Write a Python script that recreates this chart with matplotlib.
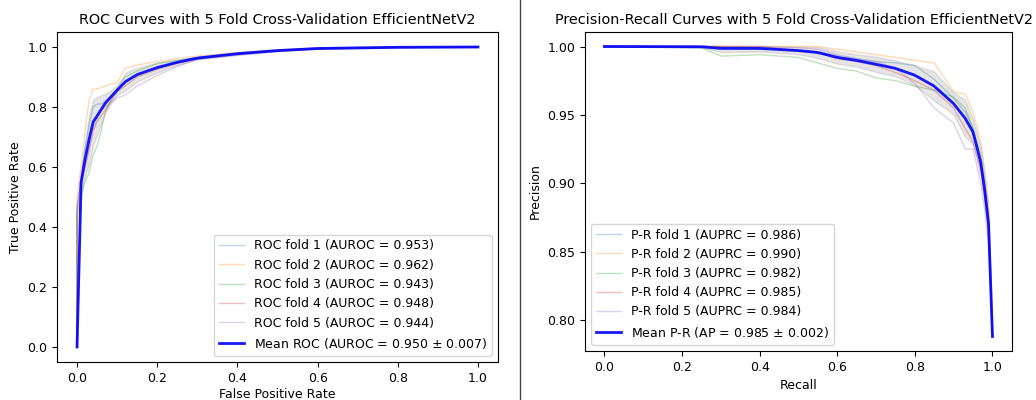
import numpy as np
import matplotlib
matplotlib.use("Agg")
import matplotlib.pyplot as plt
from matplotlib.lines import Line2D

# ---- ROC folds (fpr, tpr) ----
roc_fpr = [0.0, 0.0, 0.01, 0.02, 0.03, 0.04, 0.05, 0.06, 0.07, 0.08, 0.10, 0.12,
           0.15, 0.20, 0.25, 0.30, 0.40, 0.50, 0.60, 0.80, 1.0]
roc_tpr_folds = [
    [0.0, 0.46, 0.56, 0.66, 0.74, 0.80, 0.81, 0.81, 0.82, 0.83, 0.86, 0.88,
     0.91, 0.930, 0.950, 0.962, 0.980, 0.990, 0.996, 1.000, 1.0],
    [0.0, 0.50, 0.60, 0.72, 0.82, 0.86, 0.86, 0.865, 0.87, 0.875, 0.88, 0.93,
     0.94, 0.952, 0.960, 0.970, 0.982, 0.990, 0.997, 1.000, 1.0],
    [0.0, 0.44, 0.50, 0.55, 0.58, 0.64, 0.67, 0.72, 0.78, 0.81, 0.86, 0.90,
     0.92, 0.945, 0.955, 0.965, 0.978, 0.988, 0.995, 0.999, 1.0],
    [0.0, 0.47, 0.55, 0.60, 0.66, 0.72, 0.75, 0.77, 0.79, 0.81, 0.85, 0.87,
     0.90, 0.925, 0.945, 0.960, 0.976, 0.987, 0.994, 0.998, 1.0],
    [0.0, 0.45, 0.53, 0.60, 0.66, 0.73, 0.76, 0.79, 0.80, 0.81, 0.83, 0.84,
     0.87, 0.905, 0.935, 0.958, 0.972, 0.985, 0.993, 0.998, 1.0],
]
roc_auc = [0.953, 0.962, 0.943, 0.948, 0.944]
roc_mean_auc, roc_std_auc = 0.950, 0.007

# ---- Precision-Recall folds (recall, precision) ----
pr_recall = [0.0, 0.25, 0.30, 0.40, 0.50, 0.55, 0.60, 0.65, 0.70, 0.75, 0.80,
             0.85, 0.90, 0.93, 0.95, 0.97, 0.98, 0.99, 1.0]
pr_prec_folds = [
    [1.0, 1.0, 1.000, 0.999, 0.997, 0.996, 0.993, 0.991, 0.989, 0.988, 0.986,
     0.976, 0.962, 0.952, 0.940, 0.920, 0.900, 0.875, 0.788],
    [1.0, 1.0, 1.000, 1.000, 1.000, 1.000, 0.998, 0.996, 0.994, 0.992, 0.990,
     0.988, 0.967, 0.965, 0.952, 0.930, 0.910, 0.885, 0.788],
    [1.0, 0.999, 0.993, 0.994, 0.992, 0.988, 0.984, 0.982, 0.977, 0.975, 0.971,
     0.968, 0.963, 0.955, 0.940, 0.915, 0.895, 0.870, 0.788],
    [1.0, 1.0, 1.000, 1.000, 0.997, 0.996, 0.991, 0.989, 0.986, 0.981, 0.975,
     0.968, 0.955, 0.940, 0.930, 0.910, 0.890, 0.865, 0.788],
    [1.0, 1.0, 1.000, 1.000, 0.999, 0.998, 0.994, 0.991, 0.989, 0.984, 0.973,
     0.955, 0.944, 0.925, 0.925, 0.900, 0.880, 0.855, 0.788],
]
pr_auc = [0.986, 0.990, 0.982, 0.985, 0.984]
pr_mean_ap, pr_std_ap = 0.985, 0.002

fs_title = 10.4
fs = 9

fig = plt.figure(figsize=(10.36, 4.0), dpi=100)
ax1 = fig.add_axes([0.055, 0.095, 0.4257, 0.825])
ax2 = fig.add_axes([0.5647, 0.1225, 0.412, 0.7975])

# ROC panel
grid = np.linspace(0, 1, 100)
tprs = []
for i, tpr in enumerate(roc_tpr_folds):
    ax1.plot(roc_fpr, tpr, lw=1, alpha=0.3,
             label=f"ROC fold {i + 1} (AUROC = {roc_auc[i]:.3f})")
    t = np.interp(grid, roc_fpr[1:], tpr[1:])
    tprs.append(t)
tprs = np.array(tprs)
mean_tpr = tprs.mean(axis=0)
mean_tpr[0] = 0.0
mean_tpr[-1] = 1.0
std_tpr = tprs.std(axis=0)
ax1.plot(grid, mean_tpr, color="b", lw=2, alpha=0.9,
         label=f"Mean ROC (AUROC = {roc_mean_auc:.3f} $\\pm$ {roc_std_auc:.3f})")
ax1.fill_between(grid, np.maximum(mean_tpr - std_tpr, 0), np.minimum(mean_tpr + std_tpr, 1),
                 color="grey", alpha=0.2)
ax1.set_xlabel("False Positive Rate", fontsize=fs, labelpad=2)
ax1.set_ylabel("True Positive Rate", fontsize=fs)
ax1.set_title("ROC Curves with 5 Fold Cross-Validation EfficientNetV2", fontsize=fs_title)
ax1.legend(loc="lower right", fontsize=fs)
ax1.tick_params(labelsize=fs)

# PR panel
precs = []
for i, p in enumerate(pr_prec_folds):
    ax2.plot(pr_recall, p, lw=1, alpha=0.3,
             label=f"P-R fold {i + 1} (AUPRC = {pr_auc[i]:.3f})")
    precs.append(np.interp(grid, pr_recall, p))
precs = np.array(precs)
mean_prec = precs.mean(axis=0)
std_prec = precs.std(axis=0)
ax2.plot(grid, mean_prec, color="b", lw=2, alpha=0.9,
         label=f"Mean P-R (AP = {pr_mean_ap:.3f} $\\pm$ {pr_std_ap:.3f})")
ax2.fill_between(grid, mean_prec - std_prec, np.minimum(mean_prec + std_prec, 1),
                 color="grey", alpha=0.2)
ax2.set_xlabel("Recall", fontsize=fs)
ax2.set_ylabel("Precision", fontsize=fs)
ax2.set_title("Precision-Recall Curves with 5 Fold Cross-Validation EfficientNetV2",
              fontsize=fs_title, x=0.49)
ax2.legend(loc="lower left", fontsize=fs)
ax2.tick_params(labelsize=fs)

# separator between the two panels
fig.add_artist(Line2D([0.502, 0.502], [0, 1], transform=fig.transFigure, color="#444444", lw=1))

fig.savefig("out.png", dpi=100)
